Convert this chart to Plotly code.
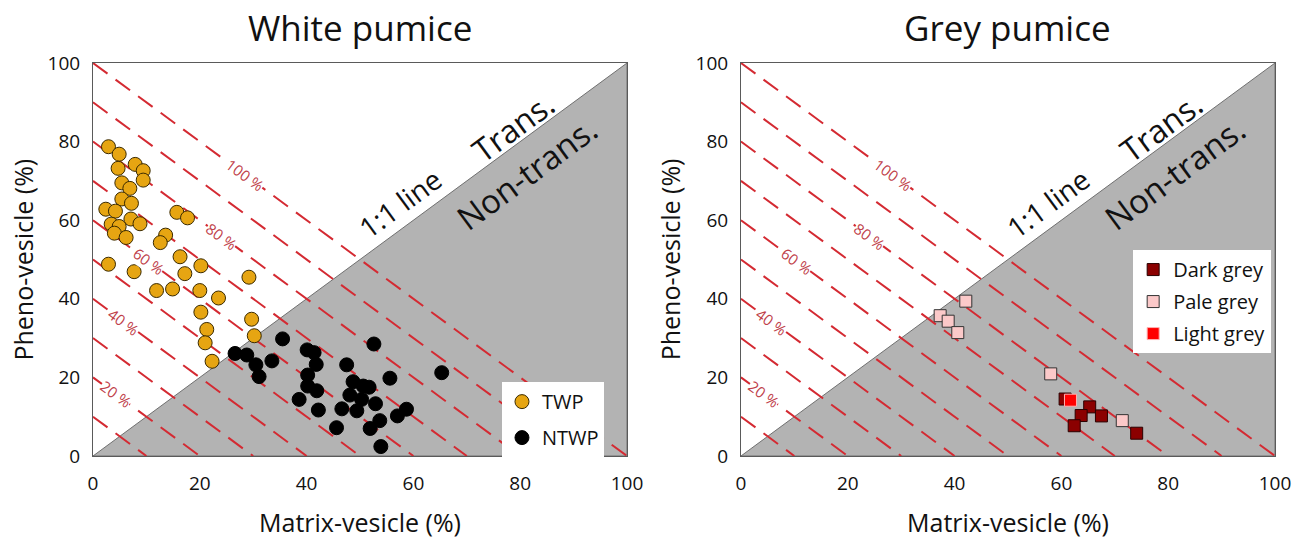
import plotly.graph_objects as go

# ---------------- data ----------------
AXIS_MAX = 100
TICKS = [0, 20, 40, 60, 80, 100]
ISO_SUMS = [10, 20, 30, 40, 50, 60, 70, 80, 90, 100]
ISO_LABEL_SUMS = [20, 40, 60, 80, 100]
ISO_LABELS = ["20 %", "40 %", "60 %", "80 %", "100 %"]
ISO_LABEL_X = [4.3, 5.8, 10.4, 24.0, 28.5]

# White pumice
TWP_X = [2.9, 4.9, 7.9, 4.7, 9.4, 9.4, 5.4, 6.9, 5.4, 7.2, 2.4, 4.2, 15.7, 17.7,
         7.1, 8.8, 3.4, 4.9, 4.0, 6.2, 13.6, 12.6, 16.3, 2.9, 7.7, 17.2, 20.2,
         29.2, 11.9, 14.9, 20.0, 23.5, 20.2, 29.7, 21.3, 30.2, 21.0, 22.3]
TWP_Y = [78.7, 76.8, 74.2, 73.2, 72.6, 70.2, 69.5, 68.1, 65.4, 64.3, 62.8, 62.3,
         62.0, 60.6, 60.3, 59.1, 59.0, 58.4, 56.7, 55.6, 56.2, 54.3, 50.7, 48.8,
         46.9, 46.4, 48.4, 45.5, 42.1, 42.5, 42.1, 40.2, 36.6, 34.8, 32.2, 30.6,
         28.8, 24.1]
NTWP_X = [35.5, 26.6, 28.8, 40.1, 41.4, 52.6, 33.5, 30.5, 41.8, 47.5, 31.1, 40.2,
          65.3, 55.6, 48.7, 50.6, 51.7, 40.2, 41.9, 48.1, 50.3, 38.6, 52.9, 46.6,
          49.4, 42.2, 58.7, 57.0, 53.7, 51.9, 45.6, 53.9]
NTWP_Y = [29.8, 26.1, 25.7, 27.0, 26.3, 28.5, 24.2, 23.2, 23.3, 23.2, 20.2, 20.6,
          21.2, 19.8, 18.9, 17.8, 17.5, 17.8, 16.6, 15.5, 14.4, 14.4, 13.3, 12.0,
          11.5, 11.7, 11.9, 10.2, 9.0, 7.0, 7.2, 2.4]

# Grey pumice
DARK_X = [60.7, 65.3, 63.7, 67.5, 62.4, 74.1]
DARK_Y = [14.5, 12.5, 10.3, 10.2, 7.7, 5.8]
PALE_X = [42.1, 37.3, 38.8, 40.6, 58.0, 71.4]
PALE_Y = [39.4, 35.7, 34.3, 31.4, 20.9, 9.0]
LIGHT_X = [61.7]
LIGHT_Y = [14.2]

# ---------------- styles ----------------
RED = "#d42a32"
LABEL_RED = "#c0414a"
GREY_FILL = "#b3b3b3"
FRAME = "#5a5a5a"
FONT = "Open Sans"
ANGLE = 36.35  # visual angle of the 1:1 line in pixels

fig = go.Figure()

axes = [("x", "y"), ("x2", "y2")]
for xa, ya in axes:
    fig.add_trace(go.Scatter(
        x=[0, AXIS_MAX, AXIS_MAX, 0], y=[0, 0, AXIS_MAX, 0],
        fill="toself", fillcolor=GREY_FILL, mode="lines",
        line=dict(color="#707070", width=1),
        xaxis=xa, yaxis=ya, showlegend=False, hoverinfo="skip"))
    for c in ISO_SUMS:
        fig.add_trace(go.Scatter(
            x=[0, c], y=[c, 0], mode="lines",
            line=dict(color=RED, width=2, dash="18px,10px"),
            xaxis=xa, yaxis=ya, showlegend=False, hoverinfo="skip"))

fig.add_trace(go.Scatter(
    x=TWP_X, y=TWP_Y, mode="markers", name="TWP", legend="legend",
    legendgroup="a",
    marker=dict(symbol="circle", size=14, color="#e6a512",
                line=dict(color="#3a2a00", width=1)),
    xaxis="x", yaxis="y"))
fig.add_trace(go.Scatter(
    x=NTWP_X, y=NTWP_Y, mode="markers", name="NTWP", legend="legend",
    legendgroup="b",
    marker=dict(symbol="circle", size=14, color="#000000",
                line=dict(color="#000000", width=1)),
    xaxis="x", yaxis="y"))

fig.add_trace(go.Scatter(
    x=DARK_X, y=DARK_Y, mode="markers", name="Dark grey", legend="legend2",
    legendgroup="c",
    marker=dict(symbol="square", size=12, color="#8b0000",
                line=dict(color="#2a0000", width=1)),
    xaxis="x2", yaxis="y2"))
fig.add_trace(go.Scatter(
    x=PALE_X, y=PALE_Y, mode="markers", name="Pale grey", legend="legend2",
    legendgroup="d",
    marker=dict(symbol="square", size=12, color="#fbc9c9",
                line=dict(color="#333333", width=1)),
    xaxis="x2", yaxis="y2"))
fig.add_trace(go.Scatter(
    x=LIGHT_X, y=LIGHT_Y, mode="markers", name="Light grey", legend="legend2",
    legendgroup="e",
    marker=dict(symbol="square", size=12, color="#ff0000",
                line=dict(color="#ffb0b0", width=1)),
    xaxis="x2", yaxis="y2"))

axis_common = dict(
    range=[0, AXIS_MAX], tickvals=TICKS, showgrid=False, zeroline=False,
    showline=True, linecolor=FRAME, linewidth=1, mirror=True,
    tickfont=dict(family=FONT, size=19, color="#111"),
    ticks="outside", tickcolor="rgba(0,0,0,0)",
)

annotations = []
titles = ["White pumice", "Grey pumice"]
for i, (xa, ya) in enumerate(axes):
    xref = xa
    yref = ya
    for c, lab, lx in zip(ISO_LABEL_SUMS, ISO_LABELS, ISO_LABEL_X):
        annotations.append(dict(
            x=lx, y=c - lx, xref=xref, yref=yref, text=lab, showarrow=False,
            textangle=ANGLE, bgcolor="white", borderpad=0,
            font=dict(family=FONT, size=15, color=LABEL_RED)))
    annotations.append(dict(
        x=57.5, y=64.4, xref=xref, yref=yref, text="1:1 line", showarrow=False,
        textangle=-ANGLE, font=dict(family=FONT, size=28, color="#111")))
    annotations.append(dict(
        x=78.7, y=83.8, xref=xref, yref=yref, text="Trans.", showarrow=False,
        textangle=-ANGLE, font=dict(family=FONT, size=32, color="#111")))
    annotations.append(dict(
        x=81.2, y=71.9, xref=xref, yref=yref, text="Non-trans.", showarrow=False,
        textangle=-ANGLE, font=dict(family=FONT, size=33, color="#111")))
    annotations.append(dict(
        x=50, y=1.0916, xref=xref, yref="paper", xanchor="center",
        yanchor="middle", text=titles[i], showarrow=False,
        font=dict(family=FONT, size=35, color="#111")))
    annotations.append(dict(
        x=50, y=-0.168, xref=xref, yref="paper", xanchor="center",
        yanchor="middle", text="Matrix-vesicle (%)", showarrow=False,
        font=dict(family=FONT, size=25, color="#111")))

annotations.append(dict(
    x=-0.060, y=0.5, xref="paper", yref="paper", text="Pheno-vesicle (%)",
    xanchor="center", yanchor="middle",
    textangle=-90, showarrow=False, font=dict(family=FONT, size=25, color="#111")))
annotations.append(dict(
    x=0.488, y=0.5, xref="paper", yref="paper", text="Pheno-vesicle (%)",
    xanchor="center", yanchor="middle",
    textangle=-90, showarrow=False, font=dict(family=FONT, size=25, color="#111")))

fig.update_layout(
    width=1309, height=542,
    margin=dict(l=93, r=34, t=63, b=86),
    paper_bgcolor="white", plot_bgcolor="white",
    font=dict(family=FONT, color="#111"),
    xaxis=dict(domain=[0, 0.4518], anchor="y", ticklen=10, **axis_common),
    yaxis=dict(domain=[0, 1], anchor="x", ticklen=8, **axis_common),
    xaxis2=dict(domain=[0.5482, 1], anchor="y2", ticklen=10, **axis_common),
    yaxis2=dict(domain=[0, 1], anchor="x2", ticklen=8, **axis_common),
    legend=dict(x=0.346, y=0.188, xanchor="left", yanchor="top",
                bgcolor="white", borderwidth=0, traceorder="grouped",
                tracegroupgap=7,
                font=dict(family=FONT, size=20, color="#111")),
    legend2=dict(x=0.880, y=0.524, xanchor="left", yanchor="top",
                 bgcolor="white", borderwidth=0, traceorder="grouped",
                 tracegroupgap=3,
                 font=dict(family=FONT, size=20, color="#111")),
    annotations=annotations,
    showlegend=True,
)

fig.write_html("out.html")
